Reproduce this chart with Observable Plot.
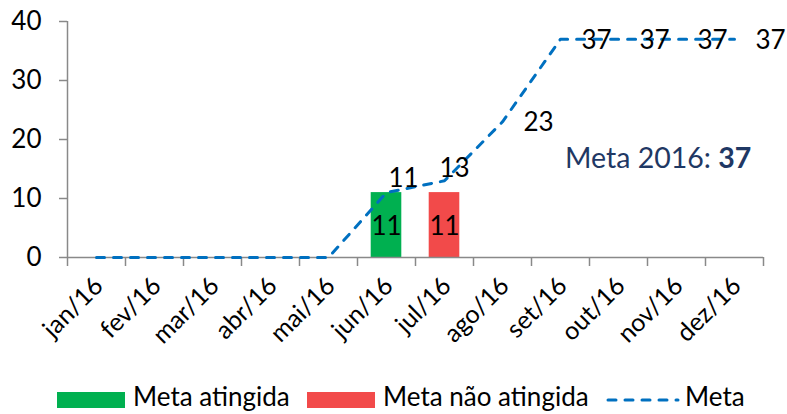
<!DOCTYPE html>
<html>
<head>
<meta charset="utf-8">
<script src="https://cdn.jsdelivr.net/npm/d3@7"></script>
<script src="https://cdn.jsdelivr.net/npm/@observablehq/plot@0.6"></script>
<style>
  html, body { margin: 0; padding: 0; background: #fff; }
  #wrap { position: relative; width: 787px; height: 414px; font-family: Lato, "Open Sans", sans-serif; color: #000; }
  #chart svg { display: block; }
  .leg { position: absolute; top: 383px; height: 26px; line-height: 26px; font-size: 26px; white-space: nowrap; }
  .sw { position: absolute; top: 392px; width: 68px; height: 16px; }
  #note { position: absolute; left: 565px; top: 140px; font-size: 28.5px; color: #1F3864; white-space: nowrap; }
</style>
</head>
<body>
<div id="wrap">
  <div id="chart"></div>
  <div class="sw" style="left:57px;background:#00B050"></div>
  <div class="leg" style="left:133px">Meta atingida</div>
  <div class="sw" style="left:307px;background:#F24A4A"></div>
  <div class="leg" style="left:383px">Meta não atingida</div>
  <svg style="position:absolute;left:606px;top:392px" width="74" height="16">
    <line x1="2" y1="8" x2="72" y2="8" stroke="#0070C0" stroke-width="3" stroke-dasharray="8,9" stroke-linecap="round"/>
  </svg>
  <div class="leg" style="left:685px">Meta</div>
  <div id="note">Meta 2016: <b>37</b></div>
</div>
<script>
const months = ["jan/16","fev/16","mar/16","abr/16","mai/16","jun/16","jul/16","ago/16","set/16","out/16","nov/16","dez/16"];
const metaValues = [0, 0, 0, 0, 0, 11, 13, 23, 37, 37, 37, 37];
const atingidaMonths = ["jun/16"];
const atingidaValues = [11];
const naoAtingidaMonths = ["jul/16"];
const naoAtingidaValues = [11];
const yTicks = [0, 10, 20, 30, 40];

const axisColor = "#898989";
const meta = months.map((m, i) => ({i, month: m, value: metaValues[i]}));
const atingida = atingidaMonths.map((m, k) => ({i: months.indexOf(m), value: atingidaValues[k]}));
const naoAtingida = naoAtingidaMonths.map((m, k) => ({i: months.indexOf(m), value: naoAtingidaValues[k]}));
const boundaries = months.map((m, i) => i + 0.5);
const labelled = meta.filter(d => d.value > 0);
const nearLabels = labelled.filter(d => d.month === "jun/16");
const nearLabels2 = labelled.filter(d => d.month === "jul/16");
const farLabels = labelled.filter(d => d.month !== "jun/16" && d.month !== "jul/16");

const barInset = 13.7;
const numSize = 26;
const chart = Plot.plot({
  width: 787,
  height: 375,
  marginLeft: 67,
  marginRight: 24,
  marginTop: 21,
  marginBottom: 118,
  style: {fontFamily: "Lato, 'Open Sans', sans-serif", background: "#fff", overflow: "visible"},
  x: {type: "linear", domain: [-0.5, 11.5], axis: null},
  y: {domain: [0, 40], axis: null},
  marks: [
    Plot.rectY(atingida, {x1: d => d.i - 0.5, x2: d => d.i + 0.5, y: "value", fill: "#00B050", insetLeft: barInset, insetRight: barInset}),
    Plot.rectY(naoAtingida, {x1: d => d.i - 0.5, x2: d => d.i + 0.5, y: "value", fill: "#F24A4A", insetLeft: barInset, insetRight: barInset}),
    // axes
    Plot.ruleY([0], {stroke: axisColor, strokeWidth: 1.5}),
    Plot.ruleX([-0.5], {y1: 40, y2: 0, insetBottom: -9, stroke: axisColor, strokeWidth: 1.5}),
    Plot.ruleX(boundaries, {y1: 0, y2: 0, insetBottom: -9, stroke: axisColor, strokeWidth: 1.5}),
    Plot.ruleY(yTicks, {x1: -0.5, x2: -0.5, insetLeft: -8, stroke: axisColor, strokeWidth: 1.5}),
    Plot.text(yTicks, {x: -0.5, y: d => d, text: d => String(d), textAnchor: "end", dx: -26, fontSize: numSize, fill: "#000"}),
    Plot.text(meta, {x: "i", frameAnchor: "bottom", text: "month", rotate: -45, textAnchor: "end", dx: 8, dy: 30, fontSize: 25, fill: "#000"}),
    // line
    Plot.line(meta, {x: "i", y: "value", stroke: "#0070C0", strokeWidth: 3, strokeDasharray: "8,9", strokeLinecap: "round"}),
    // labels
    Plot.text(atingida, {x: "i", y: d => d.value / 2, text: d => String(d.value), fontSize: numSize, fill: "#000", dy: 2}),
    Plot.text(naoAtingida, {x: "i", y: d => d.value / 2, text: d => String(d.value), fontSize: numSize, fill: "#000", dy: 2}),
    Plot.text(nearLabels, {x: "i", y: "value", text: d => String(d.value), dx: 17, dy: -14, fontSize: numSize, fill: "#000"}),
    Plot.text(nearLabels2, {x: "i", y: "value", text: d => String(d.value), dx: 10, dy: -12, fontSize: numSize, fill: "#000"}),
    Plot.text(farLabels, {x: "i", y: "value", text: d => String(d.value), dx: 36, dy: 1, fontSize: numSize, fill: "#000"})
  ]
});
document.getElementById("chart").appendChild(chart);
</script>
</body>
</html>
